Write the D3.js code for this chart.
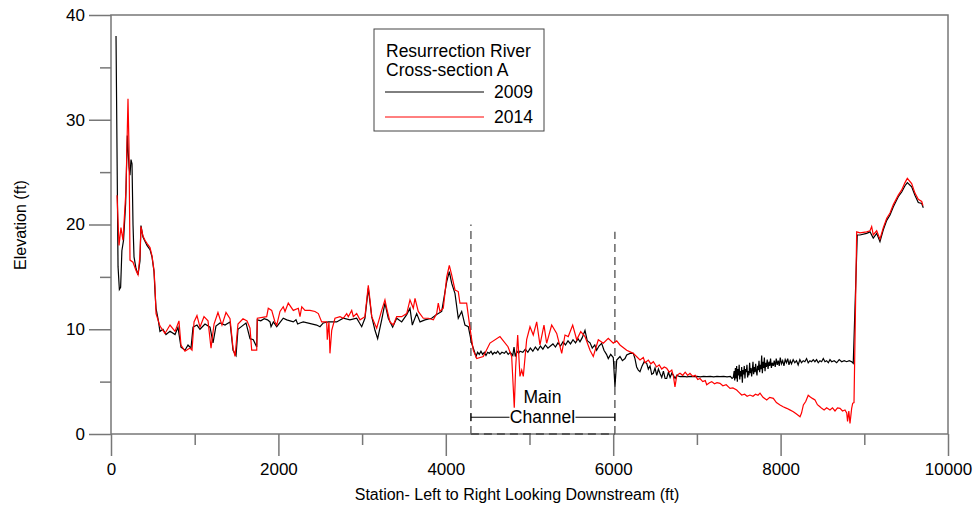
<!DOCTYPE html>
<html><head><meta charset="utf-8">
<script src="https://cdn.jsdelivr.net/npm/d3@7"></script>
<style>body{margin:0;background:#fff}svg{display:block}text{font-family:"Liberation Sans",Arial,sans-serif;fill:#000}</style>
</head><body><svg id="c" width="976" height="508"></svg>
<script>
// ---- data ----
const station2009 = [60,84,100,115,130,150,175,195,215,227,239,251,263,275,299,323,346,358,382,406,430,466,490,514,526,538,562,585,621,657,705,765,800,836,884,920,956,980,1027,1063,1123,1183,1219,1254,1302,1362,1422,1458,1494,1517,1565,1613,1661,1700,1741,1748,1790,1830,1870,1900,1912,1940,1980,2058,2100,2140,2178,2210,2230,2258,2297,2457,2497,2536,2596,2696,2775,2855,2935,2995,3034,3074,3115,3154,3186,3234,3273,3313,3365,3413,3473,3533,3572,3600,3652,3692,3751,3831,3891,3951,4011,4042,4070,4110,4149,4190,4229,4269,4309,
  4361,4380,4400,4420,4440,4460,4480,4500,4520,4540,4560,4580,4600,4620,4647,4670,4700,4720,4745,4770,4800,4815,4830,4850,4870,4886,4920,4950,4980,5010,5040,5070,5100,5130,5160,5190,5220,5250,5280,5310,5340,5370,5400,5430,5460,5490,5520,5550,5580,5603,5630,5663,5690,5723,5750,5780,5802,5830,5862,5890,5920,5941,5970,6001,6021,6042,
  6081,6110,6141,6161,6201,6240,6260,6280,6300,6320,6345,6370,6400,6420,6440,6460,6479,6500,6520,6540,6559,6580,6600,6620,6639,6660,6680,6700,6718,6740,6760,6798,6840,6880,6920,6957,7000,7040,7080,7117,7160,7200,7240,7276,7320,7360,7400,7420,
  7435,7445,7452,7460,7468,7475,7483,7490,7498,7505,7512,7520,7528,7535,7543,7550,7558,7566,7574,7582,7590,7598,7606,7614,7622,7630,7638,7646,7654,7662,7670,7678,7686,7694,7702,7710,7718,7726,7734,7742,7750,7758,7766,7774,7782,7790,7798,7806,7814,7822,7830,7840,7850,7860,7870,7880,7890,7900,7912,7924,7936,7948,7960,7972,7984,7996,8010,8025,8040,8055,8070,8085,8100,8115,8130,8150,8170,8190,8210,8230,8250,8270,8290,8310,8330,8350,8370,8390,8410,8430,8450,8470,8490,8510,8530,8550,8570,8590,8610,8640,8670,8700,8730,8760,8790,8820,8850,8868,
  8916,8948,9028,9068,9107,9148,9187,9227,9268,9307,9347,9406,9447,9486,9514,9566,9605,9645,9686,9705];
const elev2009 = [38.0,16.0,13.8,14.0,17.5,18.5,22.0,28.5,25.5,24.7,26.2,25.8,20.0,16.9,15.8,15.2,16.5,19.9,18.8,18.4,18.0,17.6,16.9,15.5,13.5,12.0,11.0,9.8,10.0,9.5,9.8,9.5,10.2,8.3,8.0,8.5,8.2,10.2,10.4,10.0,10.5,10.2,8.7,10.3,10.6,10.4,10.7,8.0,7.5,10.0,10.3,10.6,9.1,9.0,8.3,10.9,10.8,11.0,10.9,10.7,10.24,10.7,10.24,11.05,10.9,10.8,10.7,10.9,10.5,10.6,10.7,10.4,10.24,10.6,10.7,10.7,11.05,10.9,11.05,10.24,11.05,13.9,11.2,9.9,9.1,10.9,12.5,11.05,10.2,11.05,10.7,11.4,12.0,10.4,11.5,10.7,10.9,11.05,11.4,11.7,14.55,15.5,14.4,13.4,11.05,11.7,10.4,10.24,8.66,
  7.4,7.8,7.6,7.9,7.6,7.8,7.5,7.8,7.7,7.9,7.6,7.8,7.7,7.9,7.6,7.8,7.7,7.9,7.6,7.8,7.5,8.3,7.4,7.9,7.7,7.9,7.8,8.1,7.8,8.2,7.9,8.3,8.0,8.4,8.1,8.5,8.2,8.4,8.6,8.3,8.7,8.4,8.8,8.5,8.9,8.6,9.0,8.7,9.1,8.8,9.2,9.9,8.9,8.7,8.2,8.5,8.0,8.4,8.66,8.0,7.6,7.2,7.6,7.3,4.5,7.06,
  7.4,7.0,7.2,7.54,7.7,7.7,7.2,6.4,6.1,5.95,6.5,6.9,6.75,6.2,6.5,5.7,5.8,6.3,5.6,6.2,5.8,5.4,6.0,5.3,5.3,5.9,5.4,5.8,5.63,5.3,5.6,5.47,5.5,5.45,5.5,5.47,5.5,5.45,5.5,5.47,5.5,5.45,5.5,5.47,5.5,5.45,5.5,5.3,
  5.4,6.0,5.1,6.3,5.3,6.5,5.0,6.2,5.6,6.6,5.2,6.0,5.5,6.4,4.9,6.1,5.7,6.5,5.3,6.2,5.9,6.6,5.4,6.0,5.6,6.8,5.8,6.3,5.5,6.1,6.9,5.7,6.4,5.9,6.7,6.0,5.6,6.5,6.1,7.0,5.9,6.6,6.2,7.5,5.8,6.9,6.3,7.3,6.0,6.8,6.4,7.1,6.2,6.9,6.5,7.2,6.3,6.8,6.5,7.0,6.4,7.2,6.6,7.0,6.5,7.3,6.7,7.0,6.5,7.1,6.8,7.2,6.6,7.0,6.7,7.1,6.8,7.0,6.6,7.1,6.8,7.0,6.9,7.2,6.8,7.0,6.9,7.1,6.9,7.1,6.8,7.0,6.9,7.2,6.9,7.0,6.8,7.1,6.9,7.0,6.8,7.1,6.9,7.0,6.9,7.0,6.9,6.75,
  19.0,19.0,19.15,19.3,18.7,19.15,18.36,19.5,20.4,20.9,21.7,22.65,23.1,23.7,24.0,23.6,22.8,22.1,22.0,21.6];

const station2014 = [72,96,119,143,179,203,215,227,263,299,323,346,358,382,406,430,466,490,514,526,538,585,645,705,765,812,836,884,944,968,992,1027,1063,1111,1159,1195,1231,1278,1326,1374,1422,1458,1482,1517,1577,1625,1661,1681,1741,1748,1860,1879,1920,1959,1980,2019,2058,2079,2118,2178,2238,2258,2279,2318,2377,2437,2477,2517,2577,2584,2604,2616,2637,2676,2736,2775,2816,2835,2876,2895,2935,2975,3034,3074,3094,3115,3174,3234,3273,3294,3333,3373,3413,3473,3533,3572,3612,3632,3671,3731,3791,3851,3891,3910,3930,3970,4011,4042,4070,4110,4149,4169,4249,4289,4328,4369,4448,4528,4647,4743,4787,4818,4835,4859,4886,4907,4926,4966,5006,5045,5086,5125,5173,5205,5265,5325,5385,5424,5463,5516,5564,5612,5663,5723,5762,5822,5882,5941,6001,6042,6081,6161,6240,
  6320,6360,6380,6420,6450,6480,6519,6550,6580,6610,6639,6670,6700,6720,6738,6760,6798,6830,6860,6890,6917,6950,6980,7010,7037,7070,7100,7117,7150,7177,7210,7240,7276,7310,7350,7396,7430,7475,7500,7535,7570,7600,7634,7670,7700,7730,7754,7790,7834,7870,7913,7950,7993,8030,8073,8110,8152,8190,8232,8250,8272,8300,8330,8351,8380,8411,8440,8470,8491,8520,8550,8590,8620,8650,8680,8710,8740,8769,8790,8800,8815,8829,8849,8861,8877,
  8909,8948,9028,9068,9088,9107,9148,9187,9227,9268,9307,9347,9406,9447,9486,9514,9566,9605,9645,9686,9701];
const elev2014 = [22.8,18.0,19.7,18.5,23.3,32.0,27.4,16.6,16.4,15.6,15.2,17.0,19.8,18.9,18.5,18.2,17.8,17.0,15.6,14.0,11.5,10.3,9.6,10.4,9.8,10.8,8.5,7.9,8.2,8.0,10.7,11.3,10.2,11.2,10.8,8.2,10.5,11.6,10.4,11.6,11.0,8.2,7.4,10.5,11.0,10.8,10.1,8.0,8.0,11.05,11.2,12.0,11.8,10.7,10.4,11.7,12.15,11.7,12.5,11.8,12.0,11.2,12.15,11.8,11.8,11.7,11.5,10.7,10.7,9.0,10.7,7.7,9.9,11.05,11.2,11.05,11.5,11.2,11.8,11.2,11.5,10.9,11.2,14.2,12.8,11.2,10.1,11.8,12.8,12.0,10.7,10.4,11.2,11.2,11.5,12.8,12.0,12.95,11.7,11.05,11.05,10.9,11.5,12.5,11.7,12.0,15.0,16.1,15.2,13.75,13.6,12.5,12.5,10.1,8.0,7.2,7.4,8.68,9.3,8.33,7.4,2.5,6.4,9.45,5.5,6.1,5.5,9.0,10.24,9.45,10.7,8.5,10.4,8.66,10.4,9.6,7.7,9.45,9.3,10.4,9.0,9.77,9.3,8.0,7.4,9.0,8.66,9.13,8.66,8.9,8.5,8.0,7.7,
  7.06,7.3,6.8,7.06,6.7,6.9,6.4,6.6,6.2,6.4,6.27,5.9,6.1,5.5,4.5,5.6,5.8,5.6,5.9,5.6,5.8,5.5,5.6,5.2,5.3,5.0,5.1,4.7,4.9,5.0,4.8,4.9,4.84,4.6,4.7,4.36,4.4,4.2,4.0,3.72,3.8,3.6,3.72,3.6,3.8,3.7,3.9,3.5,3.25,3.5,3.4,3.0,2.77,2.6,2.45,2.3,2.13,1.9,1.65,2.0,2.77,3.1,3.7,3.56,3.4,3.25,2.8,2.6,2.45,2.3,2.5,2.29,2.5,2.2,2.5,2.45,2.2,2.29,2.0,1.2,2.2,1.0,2.45,2.93,3.0,
  19.3,19.2,19.3,19.4,19.8,19.0,19.4,18.6,19.7,20.6,21.1,21.9,22.8,23.3,24.0,24.4,23.9,23.0,22.4,22.2,21.8];

const xTicks = [0,2000,4000,6000,8000,10000];
const xMinor = [1000,3000,5000,7000,9000];
const yTicks = [0,10,20,30,40];
const yMinor = [5,15,25,35];
const seriesNames = ["2009","2014"];
const legendTitle = ["Resurrection River","Cross-section A"];
const channelStations = [4300, 6020];
const channelTops = [20, 19.3];
const channelLabel = ["Main","Channel"];

// ---- chart ----
const svg = d3.select("#c");
const x = d3.scaleLinear().domain([0,10000]).range([111,948]);
const y = d3.scaleLinear().domain([0,40]).range([434,15]);
const axisColor = "#777";

const gx = svg.append("g").attr("transform","translate(0,434)")
  .call(d3.axisBottom(x).tickValues(xTicks).tickSize(22).tickPadding(7).tickFormat(d3.format("d")));
const gxm = svg.append("g").attr("transform","translate(0,434)")
  .call(d3.axisBottom(x).tickValues(xMinor).tickSize(11).tickFormat(""));
const gy = svg.append("g").attr("transform","translate(111,0)")
  .call(d3.axisLeft(y).tickValues(yTicks).tickSize(22).tickPadding(4));
const gym = svg.append("g").attr("transform","translate(111,0)")
  .call(d3.axisLeft(y).tickValues(yMinor).tickSize(11).tickFormat(""));
[gx,gxm,gy,gym].forEach(g=>{
  g.select(".domain").remove();
  g.selectAll("line").attr("stroke",axisColor).attr("stroke-width",1.5);
  g.selectAll("text").attr("font-size",17).attr("font-family","Liberation Sans, Arial, sans-serif").attr("fill","#000");
});

svg.append("rect").attr("x",x(0)).attr("y",y(40)).attr("width",x(10000)-x(0)).attr("height",y(0)-y(40))
  .attr("fill","none").attr("stroke",axisColor).attr("stroke-width",1.5);

channelStations.forEach((s,i)=>{
  svg.append("line").attr("x1",x(s)).attr("x2",x(s)).attr("y1",y(0)).attr("y2",y(channelTops[i]))
    .attr("stroke","#707070").attr("stroke-width",1.6).attr("stroke-dasharray","8,5");
});
svg.append("line").attr("x1",x(channelStations[0])).attr("x2",x(channelStations[1])).attr("y1",y(0)).attr("y2",y(0))
  .attr("stroke","#555").attr("stroke-width",2).attr("stroke-dasharray","8,5");

const midS = 5155;
svg.append("text").attr("x",x(midS)).attr("y",y(3.0)).attr("text-anchor","middle").attr("font-size",17.5).text(channelLabel[0]);
svg.append("text").attr("x",x(midS)).attr("y",y(1.05)).attr("text-anchor","middle").attr("font-size",17.5).text(channelLabel[1]);
svg.append("line").attr("x1",x(channelStations[0])).attr("x2",x(midS)-33).attr("y1",y(1.6)).attr("y2",y(1.6)).attr("stroke","#000").attr("stroke-width",1);
svg.append("line").attr("x1",x(midS)+33).attr("x2",x(channelStations[1])).attr("y1",y(1.6)).attr("y2",y(1.6)).attr("stroke","#000").attr("stroke-width",1);
channelStations.forEach(s=>{
  svg.append("line").attr("x1",x(s)).attr("x2",x(s)).attr("y1",y(1.6)-4).attr("y2",y(1.6)+4).attr("stroke","#000").attr("stroke-width",1);
});

const line = d3.line().x(d=>x(d[0])).y(d=>y(d[1]));
const d2009 = station2009.map((s,i)=>[s,elev2009[i]]);
const d2014 = station2014.map((s,i)=>[s,elev2014[i]]);
svg.append("path").datum(d2009).attr("d",line).attr("fill","none").attr("stroke","#000").attr("stroke-width",1.2);
svg.append("path").datum(d2014).attr("d",line).attr("fill","none").attr("stroke","#ff0000").attr("stroke-width",1.2);

svg.append("text").attr("x",517).attr("y",500).attr("text-anchor","middle").attr("font-size",16)
  .text("Station- Left to Right Looking Downstream (ft)");
svg.append("text").attr("transform","translate(26,225) rotate(-90)").attr("text-anchor","middle").attr("font-size",16)
  .text("Elevation (ft)");

const lg = svg.append("g");
lg.append("rect").attr("x",374).attr("y",29).attr("width",170).attr("height",102).attr("fill","#fff").attr("stroke","#444").attr("stroke-width",1);
legendTitle.forEach((t,i)=>{
  lg.append("text").attr("x",386).attr("y",57+i*19).attr("font-size",17.5).text(t);
});
const colors = ["#000","#ff0000"];
seriesNames.forEach((n,i)=>{
  const yy = 92 + i*25;
  lg.append("line").attr("x1",385).attr("x2",484).attr("y1",yy).attr("y2",yy).attr("stroke",colors[i]).attr("stroke-width",1);
  lg.append("text").attr("x",533).attr("y",yy+5.5).attr("text-anchor","end").attr("font-size",17.5).text(n);
});
</script></body></html>
